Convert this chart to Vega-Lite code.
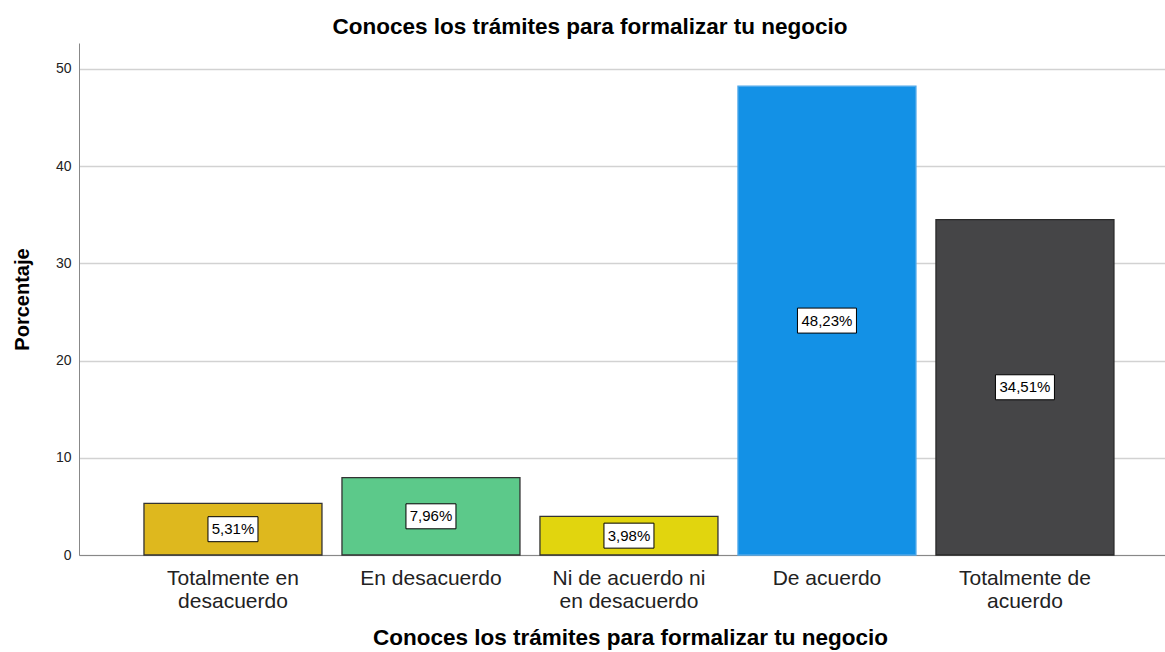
{
  "$schema": "https://vega.github.io/schema/vega-lite/v6.json",
  "width": 1086,
  "height": 512,
  "autosize": {"type": "none"},
  "padding": {"left": 79, "top": 43, "right": 0, "bottom": 97},
  "background": "white",
  "title": {"text": "Conoces los trámites para formalizar tu negocio", "font": "Liberation Sans", "fontSize": 22.5, "fontWeight": "bold", "color": "#000000", "offset": 5, "anchor": "middle", "dx": -32},
  "config": {"view": {"stroke": null}},
  "data": {"values": [
    {"cat": "Totalmente en desacuerdo", "pct": 5.31, "label": "5,31%"},
    {"cat": "En desacuerdo", "pct": 7.96, "label": "7,96%"},
    {"cat": "Ni de acuerdo ni en desacuerdo", "pct": 3.98, "label": "3,98%"},
    {"cat": "De acuerdo", "pct": 48.23, "label": "48,23%"},
    {"cat": "Totalmente de acuerdo", "pct": 34.51, "label": "34,51%"}
  ]},
  "layer": [
    {
      "mark": {"type": "bar", "strokeWidth": 1.3},
      "encoding": {
        "x": {"field": "cat", "type": "nominal", "sort": null,
          "scale": {"paddingInner": 0.101, "paddingOuter": 0.293, "align": 0.56},
          "title": "Conoces los trámites para formalizar tu negocio",
          "axis": {"labelAngle": 0, "labelFont": "Liberation Sans", "labelFontSize": 21, "labelColor": "#222222", "labelPadding": 12, "labelLineHeight": 23, "ticks": false, "domain": true, "domainColor": "#888888", "domainWidth": 1, "grid": false,
            "labelExpr": "datum.value == 'Totalmente en desacuerdo' ? ['Totalmente en', 'desacuerdo'] : datum.value == 'Ni de acuerdo ni en desacuerdo' ? ['Ni de acuerdo ni', 'en desacuerdo'] : datum.value == 'Totalmente de acuerdo' ? ['Totalmente de', 'acuerdo'] : datum.label",
            "titleFont": "Liberation Sans", "titleFontSize": 22.5, "titleFontWeight": "bold", "titleColor": "#000000", "titlePadding": 15, "titleX": 551, "titleAlign": "center"}
        },
        "y": {"field": "pct", "type": "quantitative",
          "scale": {"domain": [0, 52.67], "nice": false},
          "title": "Porcentaje",
          "axis": {"values": [0, 10, 20, 30, 40, 50], "ticks": false, "labelPadding": 8, "labelFont": "Liberation Sans", "labelFontSize": 14, "labelColor": "#222222", "domainColor": "#888888", "domainWidth": 1, "gridColor": "#d2d2d2", "gridWidth": 1.6,
            "titleFont": "Liberation Sans", "titleFontSize": 20, "titleFontWeight": "bold", "titleColor": "#000000", "titlePadding": 23}
        },
        "fill": {"field": "cat", "type": "nominal", "sort": null, "legend": null,
          "scale": {"domain": ["Totalmente en desacuerdo", "En desacuerdo", "Ni de acuerdo ni en desacuerdo", "De acuerdo", "Totalmente de acuerdo"],
            "range": ["#DEB81E", "#5CC98A", "#E1D50E", "#1391E6", "#454547"]}},
        "stroke": {"field": "cat", "type": "nominal", "sort": null, "legend": null,
          "scale": {"domain": ["Totalmente en desacuerdo", "En desacuerdo", "Ni de acuerdo ni en desacuerdo", "De acuerdo", "Totalmente de acuerdo"],
            "range": ["#333333", "#333333", "#333333", "#4fa8ea", "#2a2a2a"]}}
      }
    },
    {
      "mark": {"type": "point", "filled": true, "fill": "white", "stroke": "#000000", "strokeWidth": 1, "opacity": 1, "size": 2500},
      "encoding": {
        "x": {"field": "cat", "type": "nominal", "sort": null},
        "y": {"field": "pct", "type": "quantitative", "scale": {"domain": [0, 105.34], "nice": false}, "axis": null},
        "shape": {"condition": {"test": "datum.pct >= 10", "value": "M-1.18,-0.5H1.18V0.5H-1.18Z"}, "value": "M-1,-0.5H1V0.5H-1Z"}
      }
    },
    {
      "mark": {"type": "text", "font": "Liberation Sans", "fontSize": 15, "color": "#000000"},
      "encoding": {
        "x": {"field": "cat", "type": "nominal", "sort": null},
        "y": {"field": "pct", "type": "quantitative", "scale": {"domain": [0, 105.34], "nice": false}, "axis": null},
        "text": {"field": "label"}
      }
    }
  ],
  "resolve": {"scale": {"y": "independent"}}
}
